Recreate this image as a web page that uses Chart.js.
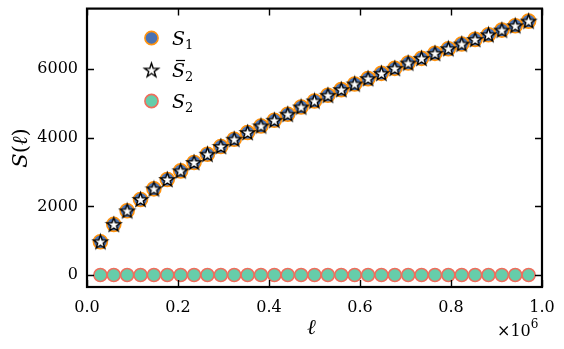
<!DOCTYPE html>
<html>
<head>
<meta charset="utf-8">
<script src="https://cdn.jsdelivr.net/npm/chart.js@4/dist/chart.umd.min.js"></script>
<style>
  html, body { margin: 0; padding: 0; background: #fff; }
  #wrap { width: 564px; height: 349px; }
</style>
</head>
<body>
<div id="wrap"><canvas id="chart" width="564" height="349"></canvas></div>
<script>
// ell values (33 points)
const ell = [29412, 58824, 88235, 117647, 147059, 176471, 205882, 235294, 264706, 294118,
  323529, 352941, 382353, 411765, 441176, 470588, 500000, 529412, 558824, 588235,
  617647, 647059, 676471, 705882, 735294, 764706, 794118, 823529, 852941, 882353,
  911765, 941176, 970588];

// S_1 and S̄_2 sit on top of each other
const s1 = [970, 1476, 1872, 2204, 2513, 2787, 3037, 3282, 3523, 3748,
  3960, 4155, 4348, 4513, 4690, 4901, 5076, 5241, 5407, 5571,
  5728, 5882, 6028, 6182, 6319, 6465, 6601, 6736, 6872, 7009,
  7143, 7271, 7405];
const s2bar = [970, 1476, 1872, 2204, 2513, 2787, 3037, 3282, 3523, 3748,
  3960, 4155, 4348, 4513, 4690, 4901, 5076, 5241, 5407, 5571,
  5728, 5882, 6028, 6182, 6319, 6465, 6601, 6736, 6872, 7009,
  7143, 7271, 7405];
const s2 = ell.map(() => 0);

const xTicks = [0, 200000, 400000, 600000, 800000, 1000000];
const yTicks = [0, 2000, 4000, 6000];

const BLUE = '#4a72b3';
const ORANGE = '#ff930f';
const GREEN = '#66cdaa';
const SALMON = '#ef6d5c';
const SERIF = '"DejaVu Serif", "Liberation Serif", serif';

// 5-pointed star marker drawn into a small canvas
function makeStar(r) {
  const c = document.createElement('canvas');
  const size = Math.ceil(r * 2 + 4);
  c.width = size; c.height = size;
  const g = c.getContext('2d');
  const cx = size / 2, cy = size / 2 + 0.6, ri = r * 0.39;
  g.beginPath();
  for (let i = 0; i < 10; i++) {
    const a = -Math.PI / 2 + i * Math.PI / 5;
    const rr = i % 2 === 0 ? r : ri;
    g.lineTo(cx + rr * Math.cos(a), cy + rr * Math.sin(a));
  }
  g.closePath();
  g.fillStyle = '#fff';
  g.fill();
  g.lineWidth = 1.4;
  g.lineJoin = 'miter';
  g.strokeStyle = '#000';
  g.stroke();
  return c;
}
const starImg = makeStar(7.4);

function pts(ys) { return ell.map((x, i) => ({ x: x, y: ys[i] })); }

// draw a run of text pieces: {t, style, size, dy}
function drawRich(ctx, parts, x, y) {
  let cx = x;
  parts.forEach(p => {
    ctx.font = (p.style || '') + ' ' + p.size + 'px ' + SERIF;
    ctx.fillText(p.t, cx, y + (p.dy || 0));
    if (p.bar) {
      const w = ctx.measureText(p.t).width;
      ctx.fillRect(cx + w * 0.3, y - p.size * 0.9, w * 0.7, 1.2);
    }
    cx += ctx.measureText(p.t).width + (p.kern || 0);
  });
  return cx - x;
}

const framePlugin = {
  id: 'frame',
  afterDraw(chart) {
    const ctx = chart.ctx;
    const a = chart.chartArea;
    const xs = chart.scales.x, ys = chart.scales.y;
    ctx.save();
    ctx.strokeStyle = '#000';
    ctx.lineWidth = 1.4;
    const tl = 7;
    xTicks.forEach(v => {
      const px = Math.round(xs.getPixelForValue(v)) + 0.5;
      ctx.beginPath();
      ctx.moveTo(px, a.bottom); ctx.lineTo(px, a.bottom - tl);
      ctx.moveTo(px, a.top); ctx.lineTo(px, a.top + tl);
      ctx.stroke();
    });
    yTicks.forEach(v => {
      const py = Math.round(ys.getPixelForValue(v)) + 0.5;
      ctx.beginPath();
      ctx.moveTo(a.left, py); ctx.lineTo(a.left + tl, py);
      ctx.moveTo(a.right, py); ctx.lineTo(a.right - tl, py);
      ctx.stroke();
    });
    ctx.lineWidth = 2.2;
    ctx.strokeRect(a.left, a.top, a.right - a.left, a.bottom - a.top);

    ctx.fillStyle = '#000';
    ctx.textBaseline = 'alphabetic';
    ctx.textAlign = 'left';

    // legend
    const lx = 151.5, tx = 172;
    const rows = [38, 70, 101];
    ctx.lineWidth = 1.6;
    ctx.beginPath(); ctx.arc(lx, rows[0], 6.6, 0, Math.PI * 2);
    ctx.fillStyle = BLUE; ctx.fill(); ctx.strokeStyle = ORANGE; ctx.stroke();
    ctx.drawImage(starImg, lx - starImg.width / 2, rows[1] - starImg.height / 2);
    ctx.beginPath(); ctx.arc(lx, rows[2], 6.6, 0, Math.PI * 2);
    ctx.fillStyle = GREEN; ctx.fill(); ctx.strokeStyle = SALMON; ctx.stroke();
    ctx.fillStyle = '#000';
    drawRich(ctx, [{ t: 'S', style: 'italic', size: 19 }, { t: '1', size: 13, dy: 4 }], tx, rows[0] + 7);
    drawRich(ctx, [{ t: 'S', style: 'italic', size: 19, bar: true }, { t: '2', size: 13, dy: 4 }], tx, rows[1] + 7);
    drawRich(ctx, [{ t: 'S', style: 'italic', size: 19 }, { t: '2', size: 13, dy: 4 }], tx, rows[2] + 7);

    // axis labels
    drawRich(ctx, [{ t: 'ℓ', style: 'italic', size: 21 }], 307, 334);
    drawRich(ctx, [{ t: '×10', size: 16 }, { t: '6', size: 12, dy: -8 }], 497, 336);

    ctx.translate(27, 148);
    ctx.rotate(-Math.PI / 2);
    const parts = [{ t: 'S', style: 'italic', size: 21 }, { t: '(', size: 21 }, { t: 'ℓ', style: 'italic', size: 21 }, { t: ')', size: 21 }];
    let w = 0;
    parts.forEach(p => { ctx.font = (p.style || '') + ' ' + p.size + 'px ' + SERIF; w += ctx.measureText(p.t).width; });
    drawRich(ctx, parts, -w / 2, 0);
    ctx.restore();
  }
};

new Chart(document.getElementById('chart'), {
  type: 'scatter',
  data: {
    datasets: [
      { label: 'S2bar', data: pts(s2bar), pointStyle: starImg, order: 1 },
      { label: 'S1', data: pts(s1), pointStyle: 'circle', pointRadius: 7,
        backgroundColor: BLUE, borderColor: ORANGE, borderWidth: 1.6, order: 2 },
      { label: 'S2', data: pts(s2), pointStyle: 'circle', pointRadius: 6.5,
        backgroundColor: GREEN, borderColor: SALMON, borderWidth: 1.5, order: 0 }
    ]
  },
  options: {
    responsive: false,
    animation: false,
    events: [],
    layout: { padding: { top: 8, right: 22, left: 0, bottom: 0 } },
    plugins: { legend: { display: false }, tooltip: { enabled: false } },
    scales: {
      x: {
        type: 'linear', min: 0, max: 1000000,
        grid: { display: false, drawTicks: false },
        border: { display: false },
        afterBuildTicks: s => { s.ticks = xTicks.map(v => ({ value: v })); },
        afterFit: s => { s.height = 62; s.paddingLeft = 0; s.paddingRight = 0; },
        ticks: {
          padding: 11, maxRotation: 0, color: '#000',
          font: { family: SERIF, size: 16 },
          callback: v => (v / 1e6).toFixed(1)
        }
      },
      y: {
        type: 'linear', min: -350, max: 7770,
        grid: { display: false, drawTicks: false },
        border: { display: false },
        afterBuildTicks: s => { s.ticks = yTicks.map(v => ({ value: v })); },
        afterFit: s => { s.width = 87; s.paddingTop = 0; s.paddingBottom = 0; },
        ticks: {
          padding: 9, color: '#000',
          font: { family: SERIF, size: 16 },
          callback: v => String(v)
        }
      }
    }
  },
  plugins: [framePlugin]
});
</script>
</body>
</html>
